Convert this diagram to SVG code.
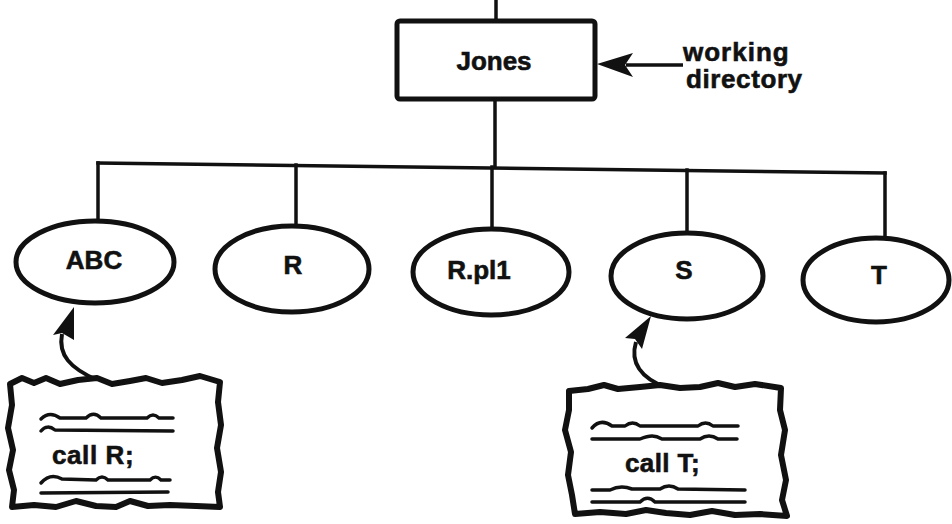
<svg xmlns="http://www.w3.org/2000/svg" width="952" height="524" viewBox="0 0 952 524">
<style>
.t{font-family:"Liberation Sans",Arial,sans-serif;font-weight:bold;font-size:26px;fill:#111;stroke:#111;stroke-width:0.6}
.c{text-anchor:middle}
.n{fill:#fff;stroke:#111;stroke-width:5}
.l{fill:none;stroke:#111;stroke-width:3.5;stroke-linecap:square}
.w{fill:none;stroke:#111;stroke-width:3.5;stroke-linecap:round;stroke-linejoin:round}
.b{fill:#fff;stroke:#111;stroke-width:6;stroke-linejoin:round}
</style>
<rect width="952" height="524" fill="#fff"/>
<g id="connectors">
<path class="l" d="M496,0 L496,20"/>
<path class="l" d="M495,100 L495,167"/>
<path class="l" d="M98,163 L885,173"/>
<path class="l" d="M98,163 L98,221"/>
<path class="l" d="M296,165 L296,225"/>
<path class="l" d="M492,167 L492,228"/>
<path class="l" d="M687,170 L687,232"/>
<path class="l" d="M885,173 L885,237"/>
<path fill="none" stroke="#111" stroke-width="3.5" d="M626,65 L683,65"/>
<path fill="#111" d="M597,64 L633,53 L625,65 L633,77 Z"/>
<path fill="none" stroke="#111" stroke-width="4" d="M97,380 C70,368 58,355 62,334"/>
<path fill="#111" d="M74,307 L53,335 L62,333 L74,340 Z"/>
<path fill="none" stroke="#111" stroke-width="4" d="M667,388 C640,378 630,362 636,342"/>
<path fill="#111" d="M651,316 L625,338 L635,339 L642,349 Z"/>
</g>
<g id="jones">
<rect class="n" x="397" y="21" width="198" height="78" rx="3" stroke-width="6"/>
<text class="t c" x="494" y="70" font-size="25">Jones</text>
</g>
<g id="wd-label">
<text class="t" x="683" y="61" font-size="24" letter-spacing="1">working</text>
<text class="t" x="686" y="88" font-size="24" letter-spacing="0.6">directory</text>
</g>
<g id="abc">
<ellipse class="n" cx="95" cy="262" rx="79" ry="41"/>
<text class="t c" x="94" y="269">ABC</text>
</g>
<g id="r">
<ellipse class="n" cx="292" cy="269" rx="77" ry="43"/>
<text class="t c" x="293" y="274">R</text>
</g>
<g id="rpl1">
<ellipse class="n" cx="491" cy="272" rx="78" ry="43"/>
<text class="t c" x="479" y="279">R.pl1</text>
</g>
<g id="s">
<ellipse class="n" cx="687" cy="276" rx="76" ry="43"/>
<text class="t c" x="684" y="279">S</text>
</g>
<g id="t">
<ellipse class="n" cx="876" cy="280" rx="73" ry="42"/>
<text class="t c" x="879" y="284">T</text>
</g>
<g id="note-r">
<path class="b" d="M10,384 L22,378 L34,383 L46,378 L60,384 L78,380 L97,378 L112,384 L130,381 L146,378 L162,383 L182,380 L200,376 L220,382 L218,402 L221,425 L217,448 L221,472 L218,492 L220,507 L196,506 L170,505 L148,506 L130,501 L116,507 L96,506 L76,501 L56,507 L34,505 L12,507 L14,490 L9,470 L13,450 L8,428 L12,405 Z"/>
<path class="w" d="M41,419 C47,413 53,413 60,418 L86,418 C91,413 96,413 101,418 L147,418 C151,414 155,414 159,418 L173,418"/>
<path class="w" d="M41,431 C45,426 50,426 55,430 L173,431"/>
<text class="t" x="52" y="464" letter-spacing="0.6">call R;</text>
<path class="w" d="M41,483 C48,475 55,475 62,479 L96,480 C100,476 104,476 108,480 L150,480 C154,476 157,476 161,480 L170,480"/>
<path class="w" d="M41,493 L168,492"/>
</g>
<g id="note-t">
<path class="b" d="M569,391 L588,389 L604,385 L618,389 L640,387 L660,385 L680,388 L700,387 L718,383 L735,387 L755,384 L781,388 L780,410 L785,430 L781,455 L786,480 L782,500 L787,516 L760,514 L735,515 L712,511 L690,515 L666,513 L646,510 L626,514 L600,512 L575,514 L572,495 L568,475 L571,452 L565,430 L569,410 Z"/>
<path class="w" d="M592,428 C598,421 605,421 612,426 L625,426 C630,422 635,422 640,426 L698,426 C703,422 708,422 713,426 L738,426"/>
<path class="w" d="M592,439 L640,439 C650,435 655,435 662,439 L700,439 C706,435 712,435 718,439 L737,439"/>
<text class="t" x="625" y="472" letter-spacing="0.4">call T;</text>
<path class="w" d="M592,490 L610,490 C618,486 624,486 632,489 L660,489 C666,485 672,485 678,489 L745,490"/>
<path class="w" d="M592,502 L640,502 C645,497 650,497 655,502 L745,502"/>
</g>
</svg>
